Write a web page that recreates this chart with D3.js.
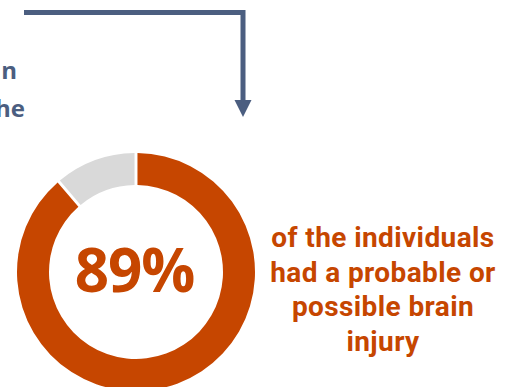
<!DOCTYPE html>
<html>
<head>
<meta charset="utf-8">
<script src="https://cdn.jsdelivr.net/npm/d3@7"></script>
<style>
  html, body { margin: 0; padding: 0; background: #fff; }
  svg { display: block; }
</style>
</head>
<body>
<svg id="chart" width="512" height="387"></svg>
<script>
const categories = ["Probable or possible brain injury", "No brain injury"];
const values = [89, 11];
const colors = ["#c64600", "#d9d9d9"];
const centerLabel = "89%";
const sideLines = ["of the individuals", "had a probable or", "possible brain", "injury"];
const leftLines = ["n", "he"];

const svg = d3.select("#chart");
const W = 512, H = 387;

// Arrow connector
const arrowColor = "#4b5e80";
const pathData = [[24, 12.5], [243, 12.5], [243, 101]];
svg.append("path")
  .attr("d", d3.line()(pathData))
  .attr("fill", "none")
  .attr("stroke", arrowColor)
  .attr("stroke-width", 5);
svg.append("path")
  .attr("d", d3.line()([[234.5, 100], [251.5, 100], [243, 117]]) + "Z")
  .attr("fill", arrowColor);

// Left clipped text
const leftY = [79, 117];
svg.selectAll("text.left").data(leftLines).enter().append("text")
  .attr("class", "left")
  .attr("x", (d, i) => i === 0 ? 17 : 25)
  .attr("y", (d, i) => leftY[i])
  .attr("text-anchor", "end")
  .attr("font-family", "Open Sans, sans-serif")
  .attr("font-weight", 700)
  .attr("font-size", 24)
  .attr("fill", arrowColor)
  .text(d => d);

// Donut
const cx = 136, cy = 272, rOuter = 119, rInner = 87;
const pie = d3.pie().sort(null).value(d => d).padAngle(0.02);
const arc = d3.arc().innerRadius(rInner).outerRadius(rOuter);
const g = svg.append("g").attr("transform", `translate(${cx},${cy})`);
g.selectAll("path").data(pie(values)).enter().append("path")
  .attr("d", arc)
  .attr("fill", (d, i) => colors[i]);

g.append("text")
  .attr("x", -1.5)
  .attr("y", 20)
  .attr("text-anchor", "middle")
  .attr("font-family", "Open Sans, sans-serif")
  .attr("font-weight", 700)
  .attr("font-size", 60)
  .attr("letter-spacing", -1)
  .attr("fill", colors[0])
  .text(centerLabel);

// Side text
const sideG = svg.append("g");
sideG.selectAll("text").data(sideLines).enter().append("text")
  .attr("x", 383)
  .attr("y", (d, i) => 247 + i * 34.5)
  .attr("text-anchor", "middle")
  .attr("font-family", "Roboto, sans-serif")
  .attr("font-weight", 700)
  .attr("font-size", 28)
  .attr("letter-spacing", 0.4)
  .attr("fill", colors[0])
  .text(d => d);
</script>
</body>
</html>
